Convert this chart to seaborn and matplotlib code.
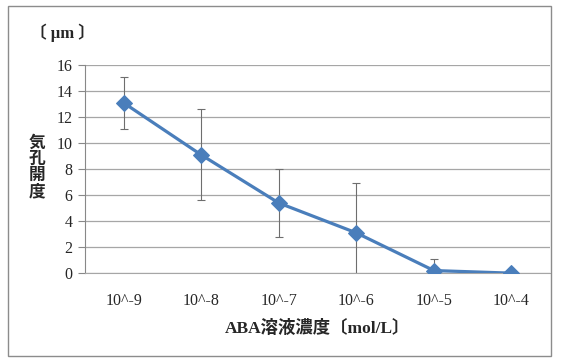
import pandas as pd
import seaborn as sns
import matplotlib.pyplot as plt
from matplotlib.patches import Rectangle

# ABA濃度ごとの気孔開度（平均と誤差）
concentrations = ["10^-9", "10^-8", "10^-7", "10^-6", "10^-5", "10^-4"]
aperture = [13.1, 9.1, 5.4, 3.1, 0.2, 0.0]
error = [2.0, 3.5, 2.6, 3.8, 0.9, 0.0]

df = pd.DataFrame({"conc": concentrations, "aperture": aperture, "err": error})
df["pos"] = range(len(df))

sns.set_style("white")
plt.rcParams["font.family"] = ["Liberation Serif", "Noto Sans CJK JP", "DejaVu Sans"]

fig = plt.figure(figsize=(5.62, 3.58), dpi=100)
ax = fig.add_axes([0.151, 0.237, 0.828, 0.581])

# 外枠
fig.patches.append(Rectangle((8 / 562, 2 / 358), 543 / 562, 350 / 358, transform=fig.transFigure,
                             fill=False, edgecolor="#8c8c8c", linewidth=1.0))

ax.errorbar(df["pos"], df["aperture"], yerr=df["err"], fmt="none", ecolor="#6e6e6e",
            elinewidth=0.8, capsize=3, capthick=0.8, zorder=2)
sns.lineplot(data=df, x="pos", y="aperture", marker="D", markersize=8, color="#4a7ebb",
             markeredgecolor="#4a7ebb", linewidth=2.3, ax=ax, zorder=3)

ax.set_xlim(-0.5, len(df) - 0.5)
ax.set_ylim(0, 16)
ax.set_yticks(range(0, 17, 2))
ax.set_xticks(df["pos"])
ax.set_xticklabels(concentrations, fontsize=11.5)
ax.tick_params(axis="y", labelsize=11.5, length=5, color="#888888", direction="out", left=True, pad=4)
ax.tick_params(axis="x", length=0, pad=14)
ax.grid(axis="y", color="#a6a6a6", linewidth=0.9)
for s in ["top", "right"]:
    ax.spines[s].set_visible(False)
ax.spines["left"].set_color("#888888")
ax.spines["bottom"].set_color("#a6a6a6")

ax.set_xlabel("ABA溶液濃度〔mol/L〕", fontsize=12.5, fontweight="bold", labelpad=8)
ax.set_ylabel("")
fig.text(37 / 562, 1 - 168 / 358, "気\n孔\n開\n度", fontsize=12, fontweight="bold",
         ha="center", va="center", linespacing=1.0)
fig.text(30 / 562, 1 - 33 / 358, "〔 μm 〕", fontsize=12, fontweight="bold", ha="left", va="center")

fig.savefig("out.png", dpi=100)
